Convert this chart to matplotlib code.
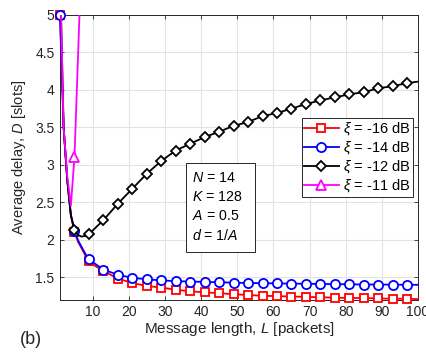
import matplotlib
matplotlib.use("Agg")
import matplotlib.pyplot as plt
from matplotlib.patches import Rectangle
import numpy as np

plt.rcParams['font.family'] = ['Liberation Sans', 'DejaVu Sans']
plt.rcParams['mathtext.fontset'] = 'custom'
plt.rcParams['mathtext.it'] = 'Liberation Sans:italic'
plt.rcParams['mathtext.rm'] = 'Liberation Sans'

# Line samples (dense near the start, then at marker positions)
L_line = [1, 2, 3, 4, 5, 6, 7, 8, 9, 10, 13, 17, 21, 25, 29, 33, 37, 41, 45, 49,
          53, 57, 61, 65, 69, 73, 77, 81, 85, 89, 93, 97, 100]
d_m16 = [5.0, 3.5, 2.8, 2.33, 2.10, 1.97, 1.88, 1.79, 1.72, 1.67, 1.58, 1.48, 1.42,
         1.38, 1.36, 1.33, 1.31, 1.295, 1.285, 1.27, 1.26, 1.25, 1.245, 1.24, 1.235,
         1.23, 1.225, 1.22, 1.22, 1.215, 1.21, 1.21, 1.205]
d_m14 = [5.0, 3.5, 2.8, 2.33, 2.11, 1.99, 1.90, 1.81, 1.74, 1.70, 1.60, 1.53, 1.49,
         1.47, 1.455, 1.445, 1.44, 1.435, 1.43, 1.425, 1.42, 1.418, 1.415, 1.412,
         1.41, 1.408, 1.405, 1.403, 1.40, 1.40, 1.398, 1.397, 1.396]
d_m12 = [5.6, 3.5, 2.8, 2.33, 2.13, 2.06, 2.04, 2.05, 2.08, 2.12, 2.26, 2.48, 2.68,
         2.88, 3.05, 3.19, 3.28, 3.37, 3.44, 3.52, 3.57, 3.65, 3.69, 3.75, 3.81,
         3.86, 3.90, 3.94, 3.97, 4.02, 4.05, 4.09, 4.11]
L_m11 = [1, 2, 3, 4, 5, 6, 7]
d_m11 = [5.6, 3.5, 2.85, 2.45, 3.1, 4.47, 5.85]

labels = [r'$\xi$ = -16 dB', r'$\xi$ = -14 dB', r'$\xi$ = -12 dB', r'$\xi$ = -11 dB']
xticks = [10, 20, 30, 40, 50, 60, 70, 80, 90, 100]
yticks = [1.5, 2, 2.5, 3, 3.5, 4, 4.5, 5]
params = [r'$N$ = 14', r'$K$ = 128', r'$A$ = 0.5', r'$d$ = 1/$A$']

W, H = 426, 358
fig = plt.figure(figsize=(4.26, 3.58), dpi=100)
ax_l, ax_t, ax_r, ax_b = 60, 15, 418, 299.5
ax = fig.add_axes([ax_l/W, 1-ax_b/H, (ax_r-ax_l)/W, (ax_b-ax_t)/H])

def px2ax(x, y):
    return (x - ax_l) / (ax_r - ax_l), (ax_b - y) / (ax_b - ax_t)

def markevery_for(xs):
    return [i for i, x in enumerate(xs) if (x - 1) % 4 == 0]

series = [
    (L_line, d_m16, 'red', 's', True),
    (L_line, d_m14, 'blue', 'o', True),
    (L_line, d_m12, 'black', 'D', False),
    (L_m11, d_m11, 'magenta', '^', False),
]
ms = {'s': 6.3, 'o': 6.6, 'D': 5.6, '^': 6.6}
for (xs, ys, c, m, noclip), lab in zip(series, labels):
    ax.plot(xs, ys, color=c, lw=1.3, marker=m, ms=ms[m], mfc='white', mec=c,
            mew=1.3, markevery=markevery_for(xs), label=lab, clip_on=not noclip,
            zorder=3)

ax.set_xlim(1, 100)
ax.set_ylim(1.2, 5)
ax.set_xticks(xticks)
ax.set_yticks(yticks)
ax.set_yticklabels(['1.5', '2', '2.5', '3', '3.5', '4', '4.5', '5'])
ax.grid(True, color='#e3e3e3', lw=0.8)
ax.set_axisbelow(True)
ax.tick_params(direction='in', top=True, right=True, labelsize=10, length=3,
               width=0.6, colors='#262626', pad=4)
for s in ax.spines.values():
    s.set_color('#262626')
    s.set_linewidth(0.7)
ax.set_xlabel(r'Message length, $L$ [packets]', fontsize=11, color='#262626', labelpad=1)
ax.set_ylabel(r'Average delay, $D$ [slots]', fontsize=10.5, color='#262626', labelpad=5)

leg = ax.legend(loc='upper right', bbox_to_anchor=(0.986, 0.638), borderaxespad=0,
                fontsize=10.5, fancybox=False, edgecolor='#262626', framealpha=1,
                handlelength=2.4, handletextpad=0.3, borderpad=0.15, labelspacing=0.15)
leg.get_frame().set_linewidth(0.7)

# parameter text box
x0, y0 = px2ax(186, 252)
x1, y1 = px2ax(255, 163)
ax.add_patch(Rectangle((x0, y0), x1 - x0, y1 - y0, transform=ax.transAxes,
                       fc='white', ec='#262626', lw=0.7, zorder=4))
for txt, yc in zip(params, [178, 197, 216, 235]):
    tx, ty = px2ax(192, yc)
    ax.text(tx, ty, txt, transform=ax.transAxes, fontsize=10.2, va='center',
            ha='left', color='black', zorder=5)

fig.text(20/W, 1-340/H, '(b)', fontsize=13, va='center', ha='left', color='#262626')

fig.savefig('out.png', dpi=100)
